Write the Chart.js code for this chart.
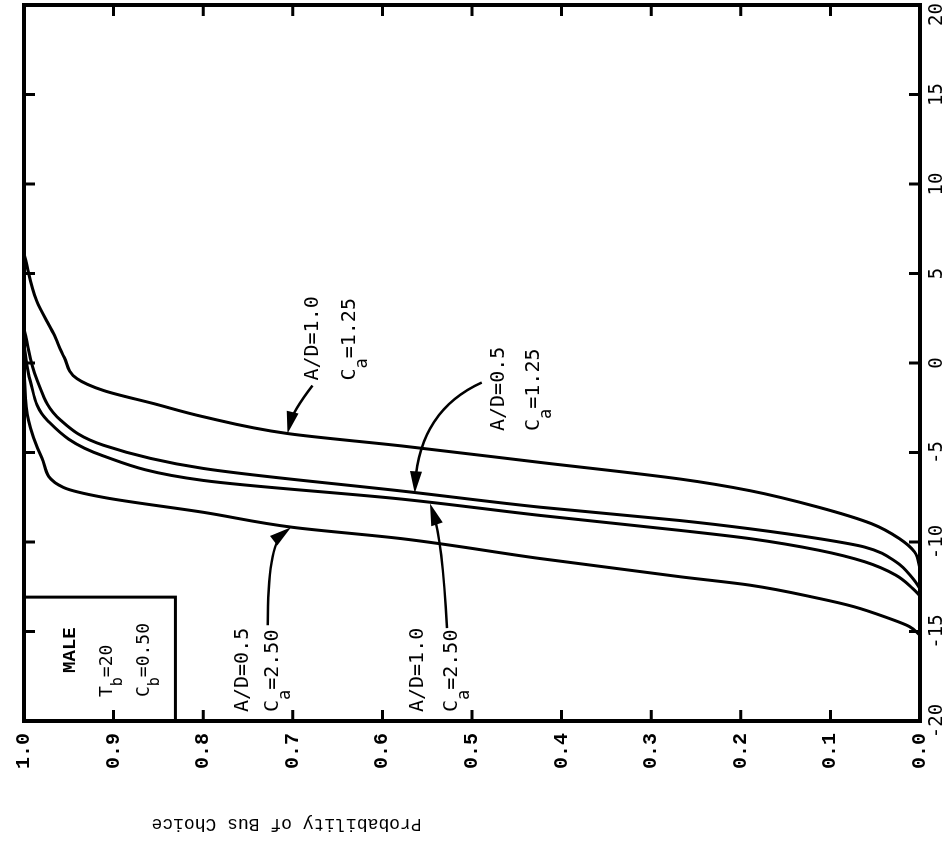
<!DOCTYPE html>
<html lang="en">
<head>
    <meta charset="UTF-8">
    <title>Probability of Bus Choice</title>
    <script src="https://cdn.jsdelivr.net/npm/chart.js"></script>
    <style>
        html, body {
            margin: 0;
            padding: 0;
            background: #fff;
            overflow: hidden;
        }
        /* the figure is printed sideways: draw it upright, then turn the box */
        #wrap {
            position: absolute;
            left: 0;
            top: 0;
            width: 846px;
            height: 948px;
            transform-origin: 0 0;
            transform: translateY(846px) rotate(-90deg);
        }
    </style>
</head>
<body>
    <div id="wrap"><canvas id="busChart" width="846" height="948"></canvas></div>

    <script>
        // tick labels
        const xTicks = [-20, -15, -10, -5, 0, 5, 10, 15, 20];
        const yTicks = [0.0, 0.1, 0.2, 0.3, 0.4, 0.5, 0.6, 0.7, 0.8, 0.9, 1.0];

        // curve 1: A/D=1.0, Ca=1.25
        const utilA = [-11.5, -10.56, -9.81, -8.98, -8.06, -7.13, -6.48, -5.56, -4.63, -3.94, -3.0, -2.26, -1.54, -0.87, 0.3, 1.64, 3.48, 6.1];
        const probA = [0.0, 0.006, 0.023, 0.054, 0.113, 0.19, 0.268, 0.423, 0.579, 0.706, 0.8, 0.856, 0.911, 0.941, 0.955, 0.967, 0.986, 1.0];
        // curve 2: A/D=0.5, Ca=1.25
        const utilB = [-12.6, -12.04, -11.1, -10.28, -9.81, -9.26, -8.8, -8.06, -7.2, -5.89, -4.6, -3.2, -1.0, 1.9];
        const probB = [0.0, 0.008, 0.027, 0.062, 0.113, 0.19, 0.268, 0.423, 0.57, 0.8, 0.911, 0.959, 0.985, 1.0];
        // curve 3: A/D=1.0, Ca=2.50
        const utilC = [-13.0, -12.6, -11.85, -11.1, -10.46, -9.81, -9.35, -8.52, -7.6, -6.56, -5.2, -3.2, -1.0, 1.0];
        const probC = [0.0, 0.008, 0.027, 0.062, 0.113, 0.19, 0.268, 0.423, 0.579, 0.8, 0.911, 0.974, 0.993, 1.0];
        // curve 4: A/D=0.5, Ca=2.50
        const utilD = [-15.2, -14.72, -14.26, -13.61, -13.15, -12.41, -11.94, -10.93, -9.81, -9.18, -8.34, -7.51, -6.95, -5.3, -3.2, -0.5];
        const probD = [0.0, 0.012, 0.035, 0.074, 0.113, 0.19, 0.268, 0.423, 0.579, 0.70, 0.8, 0.911, 0.956, 0.98, 0.995, 1.0];

        const sans = '"DejaVu Sans Mono", monospace';
        const typewriter = '"Liberation Mono", monospace';

        // text labels next to the curves (second part of a line is a subscript)
        const notes = [
            { v: -0.98, p: [0.678, 0.636], lines: [['A/D=1.0'], ['C', 'a', '=1.25']] },
            { v: -3.8, p: [0.47, 0.431], lines: [['A/D=0.5'], ['C', 'a', '=1.25']] },
            { v: -19.5, p: [0.756, 0.722], lines: [['A/D=0.5'], ['C', 'a', '=2.50']] },
            { v: -19.5, p: [0.56, 0.522], lines: [['A/D=1.0'], ['C', 'a', '=2.50']] }
        ];
        const arrows = [
            { from: [-1.26, 0.678], ctrl: [-2.7, 0.70], to: [-3.94, 0.706] },
            { from: [-1.09, 0.489], ctrl: [-2.65, 0.558], to: [-7.28, 0.564] },
            { from: [-14.65, 0.728], ctrl: [-10.18, 0.728], to: [-9.18, 0.702] },
            { from: [-14.81, 0.528], ctrl: [-9.9, 0.533], to: [-7.85, 0.547] }
        ];

        function toPoints(u, p) {
            return u.map((v, i) => ({ x: v, y: p[i] }));
        }

        function drawParts(ctx, x, y, parts, size) {
            parts.forEach((t, i) => {
                const sub = i === 1;
                ctx.font = (sub ? Math.round(size * 0.85) : size) + 'px ' + sans;
                ctx.fillText(t, x, sub ? y + size * 0.62 : y);
                x += ctx.measureText(t).width;
            });
        }

        const framePlugin = {
            id: 'framePlugin',
            afterDraw(chart) {
                const { ctx, chartArea: a } = chart;
                const xs = chart.scales.x, ys = chart.scales.y;
                const P = (v, p) => [xs.getPixelForValue(v), ys.getPixelForValue(p)];
                ctx.save();
                ctx.strokeStyle = '#000';
                ctx.fillStyle = '#000';

                // inward ticks on all four sides
                ctx.lineWidth = 3;
                ctx.beginPath();
                xTicks.slice(1, -1).forEach(v => {
                    const x = xs.getPixelForValue(v);
                    ctx.moveTo(x, a.top); ctx.lineTo(x, a.top + 11);
                    ctx.moveTo(x, a.bottom); ctx.lineTo(x, a.bottom - 11);
                });
                yTicks.slice(1, -1).forEach(p => {
                    const y = ys.getPixelForValue(p);
                    ctx.moveTo(a.left, y); ctx.lineTo(a.left + 11, y);
                    ctx.moveTo(a.right, y); ctx.lineTo(a.right - 11, y);
                });
                ctx.stroke();
                ctx.lineWidth = 4;
                ctx.strokeRect(a.left, a.top, a.right - a.left, a.bottom - a.top);

                // x tick labels, kept inside the canvas at the far end
                ctx.font = '19px ' + sans;
                ctx.textAlign = 'center';
                ctx.textBaseline = 'top';
                xTicks.forEach(v => {
                    const s = String(v);
                    const w = ctx.measureText(s).width;
                    const x = Math.min(xs.getPixelForValue(v), chart.width - w / 2 - 3);
                    ctx.fillText(s, x, a.bottom + 8);
                });

                // axis title
                ctx.save();
                ctx.translate(22, ys.getPixelForValue(0.707));
                ctx.rotate(-Math.PI / 2);
                ctx.font = '18px ' + typewriter;
                ctx.textBaseline = 'middle';
                ctx.fillText('Probability of Bus Choice', 0, 0);
                ctx.restore();

                // MALE box
                const [bx0, by0] = P(-20, 1.0);
                const [bx1, by1] = P(-13.08, 0.831);
                ctx.lineWidth = 3;
                ctx.strokeRect(bx0, by0, bx1 - bx0, by1 - by0);
                ctx.textBaseline = 'middle';
                ctx.font = 'bold 19px ' + typewriter;
                ctx.fillText('MALE', ...P(-16.04, 0.948));
                ctx.textAlign = 'left';
                drawParts(ctx, ...P(-18.66, 0.907), ['T', 'b', '=20'], 18);
                drawParts(ctx, ...P(-18.66, 0.866), ['C', 'b', '=0.50'], 18);

                // curve labels
                notes.forEach(n => {
                    n.lines.forEach((parts, i) => {
                        drawParts(ctx, ...P(n.v, n.p[i]), parts, 20);
                    });
                });

                // arrows
                ctx.lineWidth = 2.5;
                arrows.forEach(ar => {
                    const [x0, y0] = P(...ar.from);
                    const [cx, cy] = P(...ar.ctrl);
                    const [x1, y1] = P(...ar.to);
                    const ang = Math.atan2(y1 - cy, x1 - cx);
                    const L = 22, W = 6;
                    ctx.beginPath();
                    ctx.moveTo(x0, y0);
                    ctx.quadraticCurveTo(cx, cy, x1 - Math.cos(ang) * 10, y1 - Math.sin(ang) * 10);
                    ctx.stroke();
                    ctx.beginPath();
                    ctx.moveTo(x1, y1);
                    ctx.lineTo(x1 - L * Math.cos(ang) + W * Math.sin(ang), y1 - L * Math.sin(ang) - W * Math.cos(ang));
                    ctx.lineTo(x1 - L * Math.cos(ang) - W * Math.sin(ang), y1 - L * Math.sin(ang) + W * Math.cos(ang));
                    ctx.closePath();
                    ctx.fill();
                });
                ctx.restore();
            }
        };

        const curve = (u, p) => ({
            data: toPoints(u, p),
            borderColor: '#000',
            borderWidth: 3,
            pointRadius: 0,
            fill: false,
            cubicInterpolationMode: 'monotone'
        });

        new Chart(document.getElementById('busChart'), {
            type: 'line',
            data: {
                datasets: [
                    curve(utilA, probA),
                    curve(utilB, probB),
                    curve(utilC, probC),
                    curve(utilD, probD)
                ]
            },
            options: {
                responsive: false,
                animation: false,
                devicePixelRatio: 1,
                layout: { padding: { top: 20, right: 5, bottom: 0, left: 0 } },
                plugins: {
                    legend: { display: false },
                    tooltip: { enabled: false }
                },
                scales: {
                    x: {
                        type: 'linear',
                        min: -20,
                        max: 20,
                        grid: { display: false },
                        border: { display: false },
                        ticks: { display: false },
                        afterFit: s => { s.height = 28; }
                    },
                    y: {
                        type: 'linear',
                        min: 0,
                        max: 1,
                        grid: { display: false, drawTicks: false },
                        border: { display: false },
                        afterBuildTicks: s => { s.ticks = yTicks.map(value => ({ value })); },
                        ticks: {
                            padding: 12,
                            color: '#000',
                            font: { family: typewriter, size: 20, weight: 'bold' },
                            callback: v => Number(v).toFixed(1)
                        },
                        afterFit: s => { s.width = 125; }
                    }
                }
            },
            plugins: [framePlugin]
        });
    </script>
</body>
</html>
